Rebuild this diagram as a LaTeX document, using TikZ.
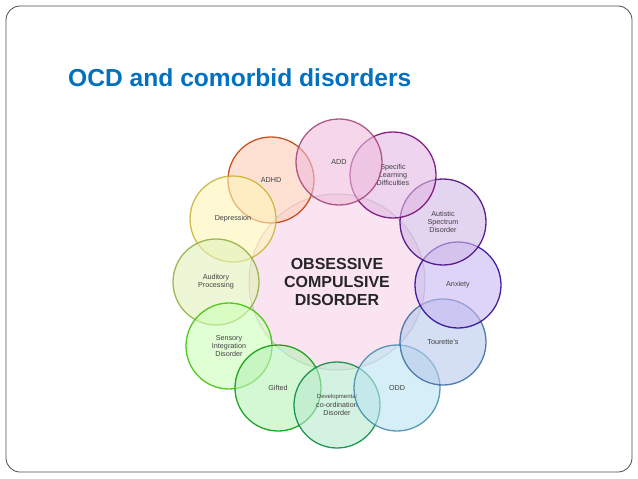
\documentclass[tikz,border=0pt]{standalone}
\usepackage{fontspec}
\setmainfont{Liberation Sans}
\definecolor{titleblue}{RGB}{0,112,192}
\definecolor{ocdpink}{RGB}{250,228,242}
\tikzset{
  ring/.style={circle, minimum size=86pt, inner sep=0pt, draw=#1!75!black, line width=1.3pt,
    fill=#1!28, fill opacity=0.6, text opacity=1, draw opacity=0.85, align=center,
    font=\fontsize{7.2}{8.2}\selectfont, text=black!75},
}
\begin{document}
\begin{tikzpicture}[x=1pt,y=-1pt]
	% Rahmen
		\useasboundingbox (0,0) rectangle (638,479);
		\draw[black!70, line width=0.8pt, rounded corners=14pt] (6,6) rectangle (632,472);
		\node[anchor=west, text=titleblue, font=\fontsize{24.6}{27}\bfseries, inner sep=0pt] (title) at (68,78) {OCD and comorbid disorders};
	% Mitte
		\node[circle, minimum size=176pt, fill=ocdpink, draw=black!25, line width=1pt, align=center,
		  font=\fontsize{16}{18}\bfseries, text=black!85] (ocd) at (337,282) {OBSESSIVE\\COMPULSIVE\\DISORDER};
	% Kreise
		\node[ring={orange!60!red}] (adhd) at (271,180) {ADHD};
		\node[ring=yellow!80!orange] (depr) at (233,219) {Depression};
		\node[ring=yellow!60!green] (audi) at (216,282) {Auditory\\Processing};
		\node[ring=green!70!yellow] (sens) at (229,346) {Sensory\\Integration\\Disorder};
		\node[ring=green!80!black] (gift) at (278,388) {Gifted};
		\node[ring=teal!60!green] (devc) at (337,405) {\fontsize{6}{7}\selectfont Developmental\\co-ordination\\Disorder};
		\node[ring=cyan!70!teal] (odd) at (397,388) {ODD};
		\node[ring=cyan!50!blue] (tour) at (443,342) {Tourette's};
		\node[ring=blue!60!violet] (anx) at (458,285) {Anxiety};
		\node[ring=violet!70!blue] (asd) at (443,222) {Autistic\\Spectrum\\Disorder};
		\node[ring=violet!80!magenta] (sld) at (393,175) {Specific\\Learning\\Difficulties};
		\node[ring=magenta!60!violet] (add) at (339,162) {ADD};
\end{tikzpicture}
\end{document}
